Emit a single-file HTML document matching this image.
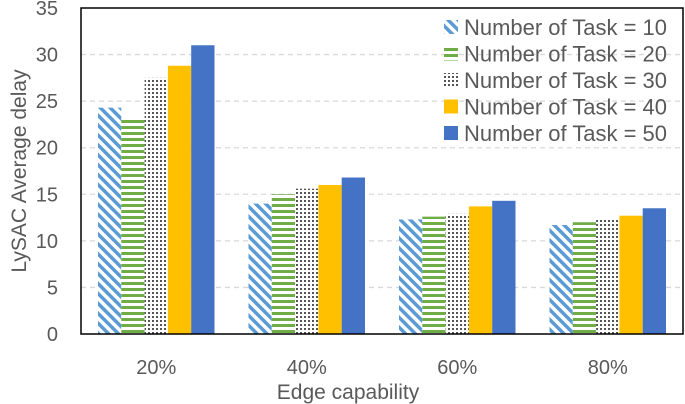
<!DOCTYPE html>
<html><head><meta charset="utf-8"><style>
html,body{margin:0;padding:0;background:#fff;width:685px;height:404px;overflow:hidden}
text{font-family:"Liberation Sans",Arial,sans-serif;fill:#595959}
</style></head><body>
<svg id="chart" width="685" height="404" viewBox="0 0 685 404" xmlns="http://www.w3.org/2000/svg">
<defs>
<pattern id="p10" patternUnits="userSpaceOnUse" width="7" height="7" patternTransform="rotate(-45)">
<rect width="7" height="7" fill="#fff"/><rect width="3.5" height="7" fill="#5b9bd5"/></pattern>
<pattern id="p20" patternUnits="userSpaceOnUse" width="6" height="6">
<rect width="6" height="6" fill="#fff"/><rect width="6" height="3" fill="#70ad47"/></pattern>
<pattern id="p30" patternUnits="userSpaceOnUse" width="4" height="4">
<rect width="4" height="4" fill="#fff"/><rect width="2" height="2" fill="#555"/></pattern>
</defs>
<g id="grid"></g>
<g id="bars"></g>
<rect x="81" y="8" width="602" height="326" fill="none" stroke="#000" stroke-width="1.5"/>
<g id="yticks"></g>
<g id="xticks"></g>
<text x="348" y="399" font-size="21" text-anchor="middle">Edge capability</text>
<text transform="translate(26,171) rotate(-90)" font-size="21" text-anchor="middle">LySAC Average delay</text>
<g id="legend"></g>
</svg>
<script>
const categories = ["20%","40%","60%","80%"];
const seriesNames = ["Number of Task = 10","Number of Task = 20","Number of Task = 30","Number of Task = 40","Number of Task = 50"];
const task10 = [24.3, 14.0, 12.3, 11.7];
const task20 = [23.1, 15.0, 12.6, 12.0];
const task30 = [27.5, 15.6, 12.9, 12.3];
const task40 = [28.8, 16.0, 13.7, 12.7];
const task50 = [31.0, 16.8, 14.3, 13.5];
const yTicks = [0,5,10,15,20,25,30,35];

const fills = ["url(#p10)","url(#p20)","url(#p30)","#ffc000","#4472c4"];
const series = [task10,task20,task30,task40,task50];
const NS="http://www.w3.org/2000/svg";
const x0=81, x1=683, yTop=8, yBot=334, yMax=35;
const y = v => yBot - v/yMax*(yBot-yTop);
const groupW=(x1-x0)/categories.length, barW=23.3;
const xBar=(ci,si)=> x0+ci*groupW+(groupW-barW*5)/2+si*barW;
function mk(tag,attrs,parent){const e=document.createElementNS(NS,tag);for(const k in attrs)e.setAttribute(k,attrs[k]);parent.appendChild(e);return e;}
const grid=document.getElementById('grid');
yTicks.forEach(t=>{
  if(t>0&&t<yMax){const l=mk('line',{x1:x0,x2:x1,y1:y(t),y2:y(t),stroke:'#d9d9d9','stroke-dasharray':'5,4','stroke-width':1.3},grid);
  
  }
  const tx=mk('text',{x:58,y:y(t)+7,'font-size':20,'text-anchor':'end'},document.getElementById('yticks'));
  tx.textContent=t;
  
  
});
const bars=document.getElementById('bars');
series.forEach((s,si)=>s.forEach((v,ci)=>{
  const r=mk('rect',{x:xBar(ci,si),y:y(v),width:barW,height:yBot-y(v),fill:fills[si]},bars);
  
  
}));
categories.forEach((c,ci)=>{
  const t=mk('text',{x:x0+ci*groupW+groupW/2,y:374,'font-size':20,'text-anchor':'middle'},document.getElementById('xticks'));
  t.textContent=c;
  
  
});
const lg=document.getElementById('legend');
seriesNames.forEach((n,i)=>{
  const cy=27+i*26.5;
  const g=mk('g',{},lg);
  
  
  mk('rect',{x:444,y:cy-7,width:14,height:14,fill:fills[i]},g);
  const t=mk('text',{x:464,y:cy+8,'font-size':22,textLength:203,lengthAdjust:'spacingAndGlyphs'},g);
  t.textContent=n;
});
</script>
</body></html>
